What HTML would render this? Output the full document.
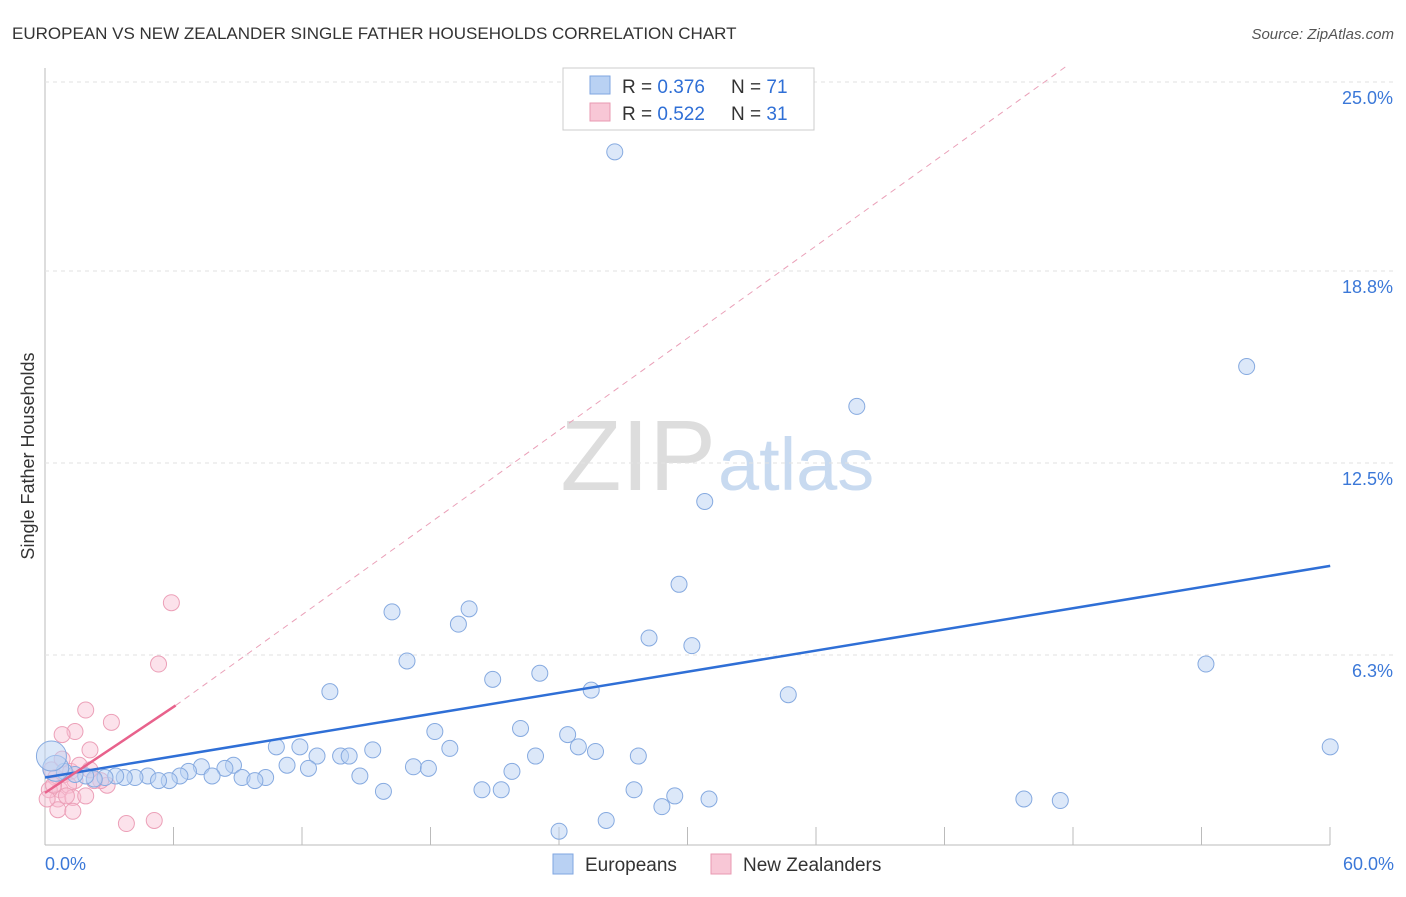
<!DOCTYPE html>
<html><head><meta charset="utf-8"><style>
body{margin:0;background:#fff;font-family:"Liberation Sans",sans-serif}
svg text{font-family:"Liberation Sans",sans-serif}
</style></head><body>
<svg id="c" width="1406" height="892">
<text x="12" y="39" font-size="17" fill="#333">EUROPEAN VS NEW ZEALANDER SINGLE FATHER HOUSEHOLDS CORRELATION CHART</text>
<text x="1394" y="39" font-size="15" fill="#555" font-style="italic" text-anchor="end">Source: ZipAtlas.com</text>
<text x="34" y="456" font-size="18" fill="#333" text-anchor="middle" transform="rotate(-90 34 456)">Single Father Households</text>
<text x="716" y="490" font-size="100" fill="#ddd" text-anchor="end" font-family="Liberation Serif">ZIP</text>
<text x="718" y="490" font-size="74" fill="#c8daf0">atlas</text>
<g id="grid"></g><g id="marks"></g>
<g>
<rect x="563" y="68" width="251" height="62" fill="#fff" stroke="#ccc"/>
<rect x="590" y="76" width="20" height="18" fill="#b9d1f3" stroke="#7fa6e0"/>
<text x="622" y="93" font-size="19" fill="#333">R = <tspan fill="#2f6fd6">0.376</tspan></text>
<text x="731" y="93" font-size="19" fill="#333">N = <tspan fill="#2f6fd6">71</tspan></text>
<rect x="590" y="103" width="20" height="18" fill="#f8c7d6" stroke="#e89ab2"/>
<text x="622" y="120" font-size="19" fill="#333">R = <tspan fill="#2f6fd6">0.522</tspan></text>
<text x="731" y="120" font-size="19" fill="#333">N = <tspan fill="#2f6fd6">31</tspan></text>
</g>
<g>
<rect x="553" y="854" width="20" height="20" fill="#b9d1f3" stroke="#7fa6e0"/>
<text x="585" y="871" font-size="19" fill="#333">Europeans</text>
<rect x="711" y="854" width="20" height="20" fill="#f8c7d6" stroke="#e89ab2"/>
<text x="743" y="871" font-size="19" fill="#333">New Zealanders</text>
</g>
</svg>
<script>
const yTicks=[6.3,12.5,18.8,25.0];
const xTickLabels=["0.0%","60.0%"];
const euroX=[26.6,56.1,37.9,30.8,29.6,16.2,19.8,19.3,28.2,30.2,16.9,54.2,23.1,20.9,25.5,13.3,34.7,22.2,18.2,24.4,10.8,11.9,24.9,18.9,60,25.7,15.3,27.7,22.9,13.8,14.2,12.7,11.3,12.3,17.2,17.9,21.8,14.7,8.8,7.3,6.7,8.4,6.3,4.8,10.3,9.2,9.8,7.8,5.8,5.3,4.2,3.7,3.3,2.8,2.3,1.9,1.4,0.9,0.5,0.3,15.8,20.4,21.3,27.5,29.4,31.0,28.8,45.7,47.4,26.2,24.0];
const euroY=[22.6,15.6,14.3,11.2,8.5,7.6,7.7,7.2,6.75,6.5,6.0,5.9,5.6,5.4,5.05,5.0,4.9,3.8,3.7,3.6,3.2,3.2,3.2,3.15,3.2,3.05,3.1,2.9,2.9,2.9,2.9,2.9,2.6,2.5,2.55,2.5,2.4,2.25,2.6,2.55,2.4,2.5,2.25,2.25,2.2,2.2,2.1,2.25,2.1,2.1,2.2,2.2,2.25,2.2,2.15,2.25,2.3,2.4,2.5,2.9,1.75,1.8,1.8,1.8,1.6,1.5,1.25,1.5,1.45,0.8,0.45];
const euroR=[8,8,8,8,8,8,8,8,8,8,8,8,8,8,8,8,8,8,8,8,8,8,8,8,8,8,8,8,8,8,8,8,8,8,8,8,8,8,8,8,8,8,8,8,8,8,8,8,8,8,8,8,8,8,8,8,8,8,13,15,8,8,8,8,8,8,8,8,8,8,8];
const nzX=[5.9,5.3,1.9,3.1,1.4,0.8,2.1,0.3,0.5,0.7,0.9,1.2,1.4,1.1,0.6,1.3,1.9,0.6,1.3,2.9,2.6,3.8,5.1,0.2,1.6,0.8,2.3,0.1,0.4,1.0,2.1];
const nzY=[7.9,5.9,4.4,4.0,3.7,3.6,3.1,2.45,2.2,1.8,2.3,2.4,2.1,1.95,1.5,1.55,1.6,1.15,1.1,1.95,2.1,0.7,0.8,1.8,2.6,2.8,2.1,1.5,1.95,1.6,2.45];
const euroLine=[0,2.2,60,9.1];
const nzLine=[0,1.7,6.1,4.55];
const nzDash=[6.1,4.55,47.7,25.4];
const X=v=>45+v*21.42, Y=v=>845-v*30.67;
const ns="http://www.w3.org/2000/svg";
const g=document.getElementById('grid'), m=document.getElementById('marks');
function mk(p,tag,a){const e=document.createElementNS(ns,tag);for(const k in a)e.setAttribute(k,a[k]);p.appendChild(e);return e;}
let ax=mk(g,'line',{x1:45,y1:68,x2:45,y2:845,stroke:'#bbb'});


let bx=mk(g,'line',{x1:45,y1:845,x2:1330,y2:845,stroke:'#bbb'});


yTicks.forEach((t,i)=>{const yy=[655,463,271,82][i];
 const l=mk(g,'line',{x1:45,y1:yy,x2:1395,y2:yy,stroke:'#e2e2e2','stroke-dasharray':'4,4'});
 
 
 const t2=mk(g,'text',{x:1393,y:yy+22,'font-size':18,fill:'#3b78d8','text-anchor':'end'});t2.textContent=t.toFixed(1)+'%';
 
 });
for(let i=1;i<=10;i++){const xx=45+i*128.5;const l=mk(g,'line',{x1:xx,y1:827,x2:xx,y2:845,stroke:'#bbb'});
 
 }
xTickLabels.forEach((s,i)=>{const t=mk(g,'text',{x:i?1394:45,y:870,'font-size':18,fill:'#3b78d8','text-anchor':i?'end':'start'});t.textContent=s;
 
 });
nzX.forEach((x,i)=>{const c=mk(m,'circle',{cx:X(x),cy:Y(nzY[i]),r:8,fill:'rgba(248,190,210,0.45)',stroke:'#eca0b8'});
 
 });
euroX.forEach((x,i)=>{const c=mk(m,'circle',{cx:X(x),cy:Y(euroY[i]),r:euroR[i],fill:'rgba(185,209,243,0.5)',stroke:'#86aae0'});
 
 });
let l1=mk(m,'line',{x1:X(euroLine[0]),y1:Y(euroLine[1]),x2:X(euroLine[2]),y2:Y(euroLine[3]),stroke:'#2f6fd6','stroke-width':2.5});


let l2=mk(m,'line',{x1:X(nzLine[0]),y1:Y(nzLine[1]),x2:X(nzLine[2]),y2:Y(nzLine[3]),stroke:'#e8628c','stroke-width':2.5});


let l3=mk(m,'line',{x1:X(nzDash[0]),y1:Y(nzDash[1]),x2:X(nzDash[2]),y2:Y(nzDash[3]),stroke:'#eaa0b8','stroke-width':1,'stroke-dasharray':'6,5'});


</script>
</body></html>
